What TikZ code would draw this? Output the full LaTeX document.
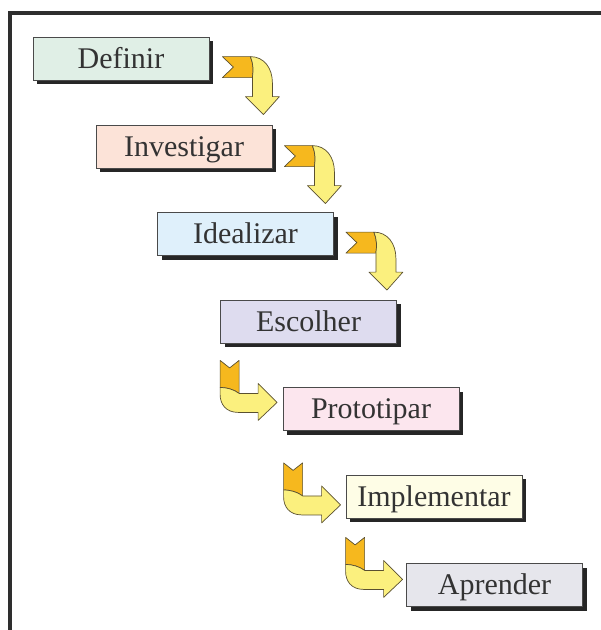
\documentclass[tikz,border=0pt]{standalone}
\usepackage{fontspec}
\setmainfont{Liberation Serif}
\usetikzlibrary{calc,shadows}
\definecolor{c1}{HTML}{E0EFE6}
\definecolor{c2}{HTML}{FCE3D8}
\definecolor{c3}{HTML}{DFF0FB}
\definecolor{c4}{HTML}{DEDCEF}
\definecolor{c5}{HTML}{FCE6EE}
\definecolor{c6}{HTML}{FEFDE6}
\definecolor{c7}{HTML}{E6E6EC}
\definecolor{arrorange}{HTML}{F6B81E}
\definecolor{arryellow}{HTML}{FBF07E}
\definecolor{arredge}{HTML}{5A5030}
\definecolor{boxedge}{HTML}{4A4A4A}
\definecolor{txt}{HTML}{333333}
\tikzset{
  stagebox/.style={draw=boxedge, line width=0.8pt, minimum width=176pt, minimum height=43pt,
    inner sep=0pt, text height=19.5pt, text depth=0pt, text=txt,
    font=\fontsize{30}{31}\selectfont,
    drop shadow={shadow xshift=4pt, shadow yshift=-4pt, fill=black!85, opacity=1}},
  ribbon/.style={draw=arredge, line width=0.7pt, line join=round},
  turndown/.pic={
    \path[ribbon, fill=arrorange] (0,0) -- (28,0) .. controls (31,7) and (31,14) .. (30,21)
      -- (0,21) -- (11,10.5) -- cycle;
    \path[ribbon, fill=arryellow] (28,0) .. controls (42,0) and (50,12) .. (50,26) -- (50,40)
      -- (57,40) -- (41,58) -- (23,40) -- (30,40) -- (30,21)
      .. controls (31,14) and (31,7) .. (28,0) -- cycle;
  },
  turnright/.pic={
    \path[ribbon, fill=arrorange] (0,0) -- (9.5,7.5) -- (19,0) -- (19,33)
      .. controls (14,29) and (6,27) .. (0,27) -- cycle;
    \path[ribbon, fill=arryellow] (0,27) .. controls (6,27) and (14,29) .. (19,33) -- (38,33)
      -- (38,23) -- (57,42) -- (38,60) -- (38,52) -- (18,52)
      .. controls (6,52) and (0,44) .. (0,34) -- cycle;
  }
}
\begin{document}
\begin{tikzpicture}[x=1pt,y=-1pt]
\useasboundingbox (0,0) rectangle (601,630);
\fill[white] (0,0) rectangle (601,630);
% frame
\draw[line width=4pt, color=black!82, line join=miter] (10,630) -- (10,13) -- (601,13);
% boxes
\node[stagebox, fill=c1] (b1) at (121,58.5) {Definir};
\node[stagebox, fill=c2] (b2) at (184,146.5) {Investigar};
\node[stagebox, fill=c3] (b3) at (245.5,234) {Idealizar};
\node[stagebox, fill=c4] (b4) at (308.5,321.5) {Escolher};
\node[stagebox, fill=c5] (b5) at (371,409) {Prototipar};
\node[stagebox, fill=c6] (b6) at (434,496.5) {Implementar};
\node[stagebox, fill=c7] (b7) at (494.5,585) {Aprender};
% arrows
\pic at ($(b1.north east)+(13,20)$) {turndown};
\pic at ($(b2.north east)+(12,21)$) {turndown};
\pic at ($(b3.north east)+(12,20)$) {turndown};
\pic at ($(b4.south west)+(0,17)$) {turnright};
\pic at ($(b5.south west)+(1,32)$) {turnright};
\pic at ($(b6.south west)+(0,19)$) {turnright};
\end{tikzpicture}
\end{document}
